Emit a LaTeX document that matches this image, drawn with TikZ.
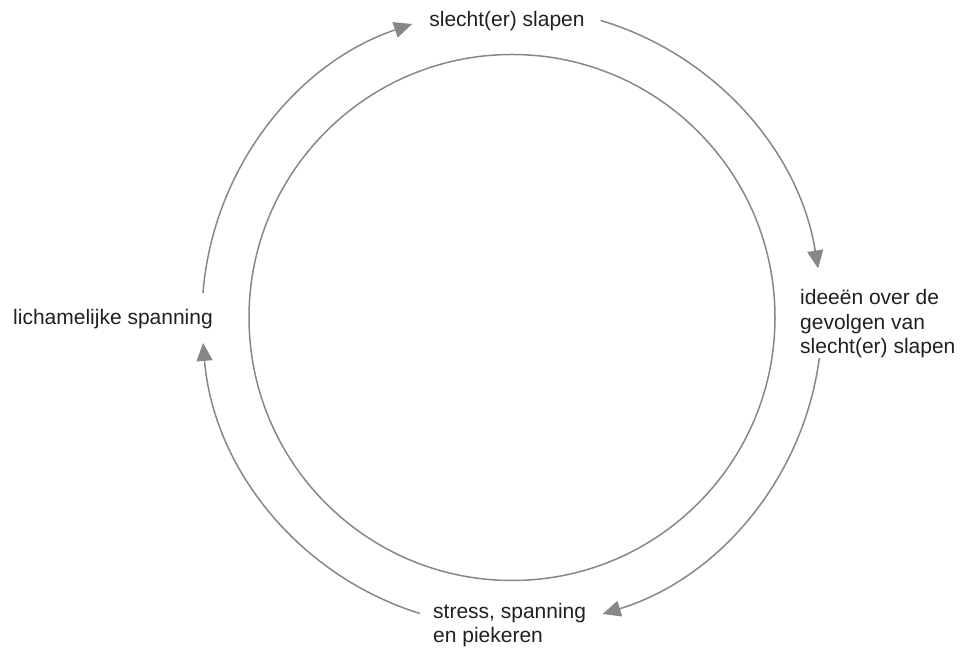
\documentclass[tikz,border=0pt]{standalone}
\usepackage{fontspec}
\setmainfont{Liberation Sans}
\usetikzlibrary{arrows.meta}
\definecolor{kringgrijs}{RGB}{135,135,138}
\definecolor{tekstkleur}{RGB}{35,31,32}

\begin{document}
\begin{tikzpicture}[x=1pt,y=1pt,
        kring/.style={draw=kringgrijs, line width=1.5pt},
        pijl/.style={kring, -{Triangle[length=18pt,width=16pt]}},
        tekst/.style={inner sep=0pt, text=tekstkleur, align=left,
            font=\fontsize{21}{24.5}\selectfont}]
        \useasboundingbox (0,0) rectangle (970,653);
        \coordinate (ctr) at (512,335.5);
        % labels (base = last line)
        \node[tekst, anchor=base] (slapen) at (507,626) {slecht(er) slapen};
        \node[tekst, anchor=base west] (gevolgen) at (800,299) {ideeën over de\\gevolgen van\\slecht(er) slapen};
        \node[tekst, anchor=base west] (stress) at (433,10) {stress, spanning\\en piekeren};
        \node[tekst, anchor=base west] (spanning) at (13,328) {lichamelijke spanning};
        % inner circle
        \draw[kring] (ctr) circle[radius=263pt];
        % cycle arrows
        \draw[pijl] ([shift={(175.5:310)}]ctr) arc[start angle=175.5, end angle=108.8, radius=310pt];
        \draw[pijl] ([shift={(73.4:310)}]ctr) arc[start angle=73.4, end angle=9.1, radius=310pt];
        \draw[pijl] ([shift={(-7.5:310)}]ctr) arc[start angle=-7.5, end angle=-73, radius=310pt];
        \draw[pijl] ([shift={(-107.3:310)}]ctr) arc[start angle=-107.3, end angle=-175.3, radius=310pt];
    \end{tikzpicture}
\end{document}
